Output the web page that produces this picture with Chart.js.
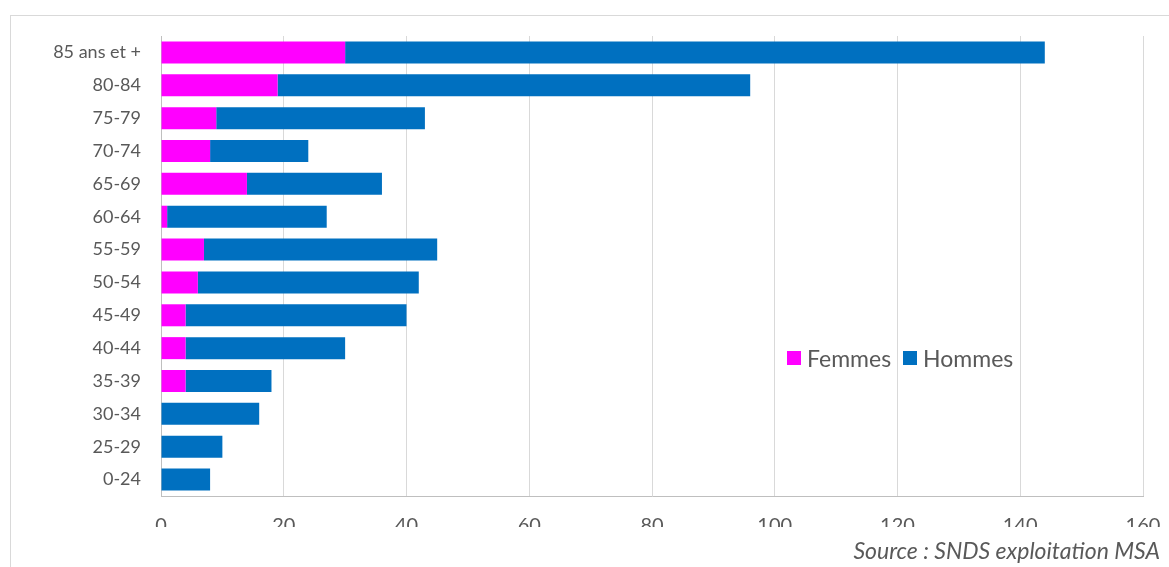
<!DOCTYPE html>
<html>
<head>
<meta charset="utf-8">
<script src="https://cdn.jsdelivr.net/npm/chart.js@4.4.1/dist/chart.umd.min.js"></script>
<style>
  html, body { margin: 0; padding: 0; background: #fff; }
  #wrap { position: relative; width: 1169px; height: 567px; overflow: hidden; font-family: Lato, sans-serif; }
  #frame { position: absolute; left: 10px; top: 15px; width: 1170px; height: 600px; border: 1px solid #d9d9d9; box-sizing: border-box; }
  #chart { position: absolute; left: 0; top: 0; }
  #legend { position: absolute; left: 787px; top: 344px; display: flex; align-items: center; font-size: 23px; color: #595959; }
  #legend .item { display: flex; align-items: center; margin-right: 12px; }
  #legend .box { width: 14px; height: 14px; margin-right: 6px; }
  #source { position: absolute; right: 9px; top: 536px; font-size: 23px; font-style: italic; color: #595959; }
</style>
</head>
<body>
<div id="wrap">
  <div id="frame"></div>
  <canvas id="chart" width="1169" height="567"></canvas>
  <div id="legend"></div>
  <div id="source">Source : SNDS exploitation MSA</div>
</div>
<script>
const ageGroups = ["85 ans et +", "80-84", "75-79", "70-74", "65-69", "60-64", "55-59",
  "50-54", "45-49", "40-44", "35-39", "30-34", "25-29", "0-24"];
const femmes = [30, 19, 9, 8, 14, 1, 7, 6, 4, 4, 4, 0, 0, 0];
const hommes = [114, 77, 34, 16, 22, 26, 38, 36, 36, 26, 14, 16, 10, 8];
const xTicks = [0, 20, 40, 60, 80, 100, 120, 140, 160];

const PINK = "#ff00ff";
const BLUE = "#0070c0";
const TEXT = "#595959";

const chart = new Chart(document.getElementById("chart"), {
  type: "bar",
  data: {
    labels: ageGroups,
    datasets: [
      { label: "Femmes", data: femmes, backgroundColor: PINK, barPercentage: 0.67, categoryPercentage: 1 },
      { label: "Hommes", data: hommes, backgroundColor: BLUE, barPercentage: 0.67, categoryPercentage: 1 },
    ],
  },
  options: {
    indexAxis: "y",
    responsive: false,
    animation: false,
    layout: { padding: { top: 36, right: 26, bottom: 40, left: 0 } },
    plugins: {
      legend: { display: false },
      tooltip: { enabled: false },
    },
    scales: {
      x: {
        stacked: true,
        min: 0,
        max: 160,
        afterBuildTicks: (scale) => {
          scale.ticks = xTicks.map((v) => ({ value: v }));
        },
        afterFit: (scale) => {
          scale.height = 31;
          scale.paddingLeft = 0;
          scale.paddingRight = 0;
        },
        grid: { color: "#d9d9d9", drawTicks: false },
        border: { color: "#bfbfbf" },
        ticks: {
          color: TEXT,
          padding: 18,
          maxRotation: 0,
          font: { size: 20, family: "Lato" },
        },
      },
      y: {
        stacked: true,
        afterFit: (scale) => {
          scale.width = 161;
        },
        grid: { display: false, drawTicks: false },
        border: { color: "#bfbfbf" },
        ticks: {
          color: TEXT,
          padding: 20,
          font: { size: 18, family: "Lato" },
        },
      },
    },
  },
});

// legende placee dans la zone du graphique
const legendEl = document.getElementById("legend");
chart.data.datasets.forEach((ds) => {
  const item = document.createElement("div");
  item.className = "item";
  item.innerHTML = `<span class="box" style="background:${ds.backgroundColor}"></span>${ds.label}`;
  legendEl.appendChild(item);
});
</script>
</body>
</html>
